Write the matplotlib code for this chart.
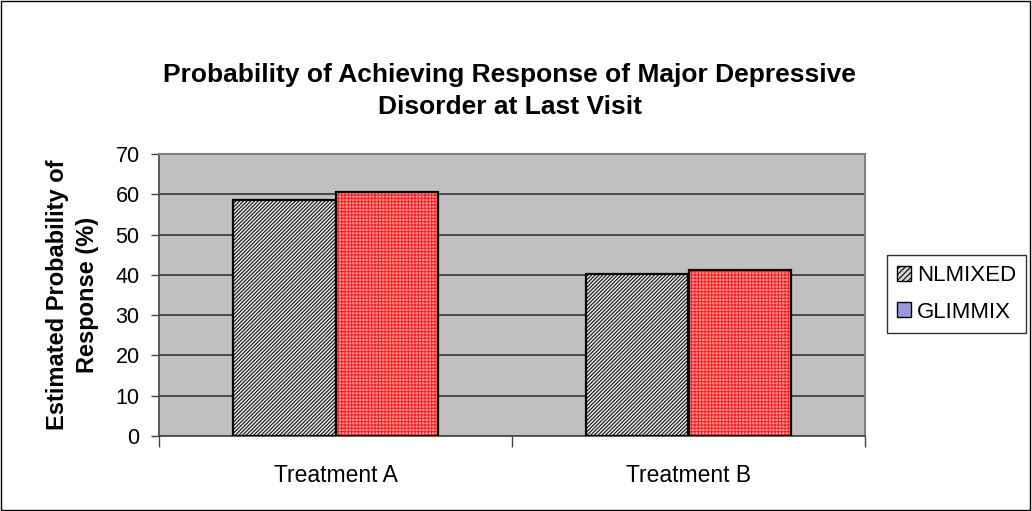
import matplotlib.pyplot as plt
import matplotlib.patches as mpatches
from matplotlib.transforms import Bbox
import numpy as np

plt.rcParams['font.family'] = ['Liberation Sans', 'DejaVu Sans']

treatments = ['Treatment A', 'Treatment B']
nlmixed = [58.5, 40.2]
glimmix = [60.5, 41.3]

fig = plt.figure(figsize=(10.32, 5.11), dpi=100)
ax = fig.add_axes([159 / 1032, 1 - 436 / 511, (865 - 159) / 1032, (436 - 154) / 511])

x = np.arange(len(treatments))
w = 0.289

# hatch layers first, then black outlines on top
plt.rcParams['hatch.linewidth'] = 0.8
ax.bar(x - w / 2, nlmixed, w, color='#e8e8e8', edgecolor='#111111', hatch='/////////', linewidth=0, zorder=3)
ax.bar(x + w / 2, glimmix, w, color='#ff9c9c', edgecolor='#ff2020', hatch='+++++', linewidth=0, zorder=3)
ax.bar(x - w / 2, nlmixed, w, fill=False, edgecolor='black', linewidth=1.6, zorder=4)
ax.bar(x + w / 2, glimmix, w, fill=False, edgecolor='black', linewidth=1.6, zorder=4)

ax.set_facecolor('#c0c0c0')
ax.set_xlim(-0.5, 1.5)
ax.set_ylim(0, 70)
ax.set_yticks(range(0, 71, 10))
ax.yaxis.grid(True, color='#333333', linewidth=1.2, zorder=1)
ax.set_axisbelow(True)

ax.set_xticks([-0.5, 0.5, 1.5])
ax.set_xticklabels([])
ax.set_xticks(x, minor=True)
ax.set_xticklabels(treatments, minor=True, fontsize=16.5)
ax.tick_params(axis='x', which='minor', length=0, pad=20)
ax.tick_params(axis='x', which='major', length=8, width=1, color='#444444')
ax.tick_params(axis='y', length=6, width=1, color='#444444', labelsize=15.5, pad=8)

for side in ['top', 'right']:
    ax.spines[side].set_color('#808080')
    ax.spines[side].set_linewidth(1.5)
for side in ['left', 'bottom']:
    ax.spines[side].set_color('#444444')
    ax.spines[side].set_linewidth(1.2)

ylab = ax.set_ylabel('Estimated Probability of\nResponse (%)', fontsize=17, fontweight='bold',
                     labelpad=12, linespacing=1.4)
# the first line runs past the top of the label area and is cut off there
ylab.set_clip_box(Bbox.from_extents(0, 0, 200, 511 - 143))
ylab.set_clip_on(True)

fig.text(0.494, 1 - 91 / 511, 'Probability of Achieving Response of Major Depressive\nDisorder at Last Visit',
         ha='center', va='center', fontsize=19, fontweight='bold', linespacing=1.45)

handles = [
    mpatches.Patch(facecolor='#d8d8d8', edgecolor='black', hatch='//////', label='NLMIXED'),
    mpatches.Patch(facecolor='#9999dd', edgecolor='black', label='GLIMMIX'),
]
leg = fig.legend(handles=handles, loc='upper left', bbox_to_anchor=(887 / 1032, 1 - 255 / 511),
                 frameon=True, fancybox=False, edgecolor='black', fontsize=16,
                 handlelength=0.65, handleheight=0.65, handletextpad=0.25, labelspacing=0.7,
                 borderpad=0.45, borderaxespad=0)
leg.get_frame().set_linewidth(1)

fig.patches.append(mpatches.Rectangle((0.001, 0.002), 0.997, 0.996, transform=fig.transFigure,
                                      fill=False, edgecolor='black', linewidth=1))

fig.savefig('out.png', dpi=100)
